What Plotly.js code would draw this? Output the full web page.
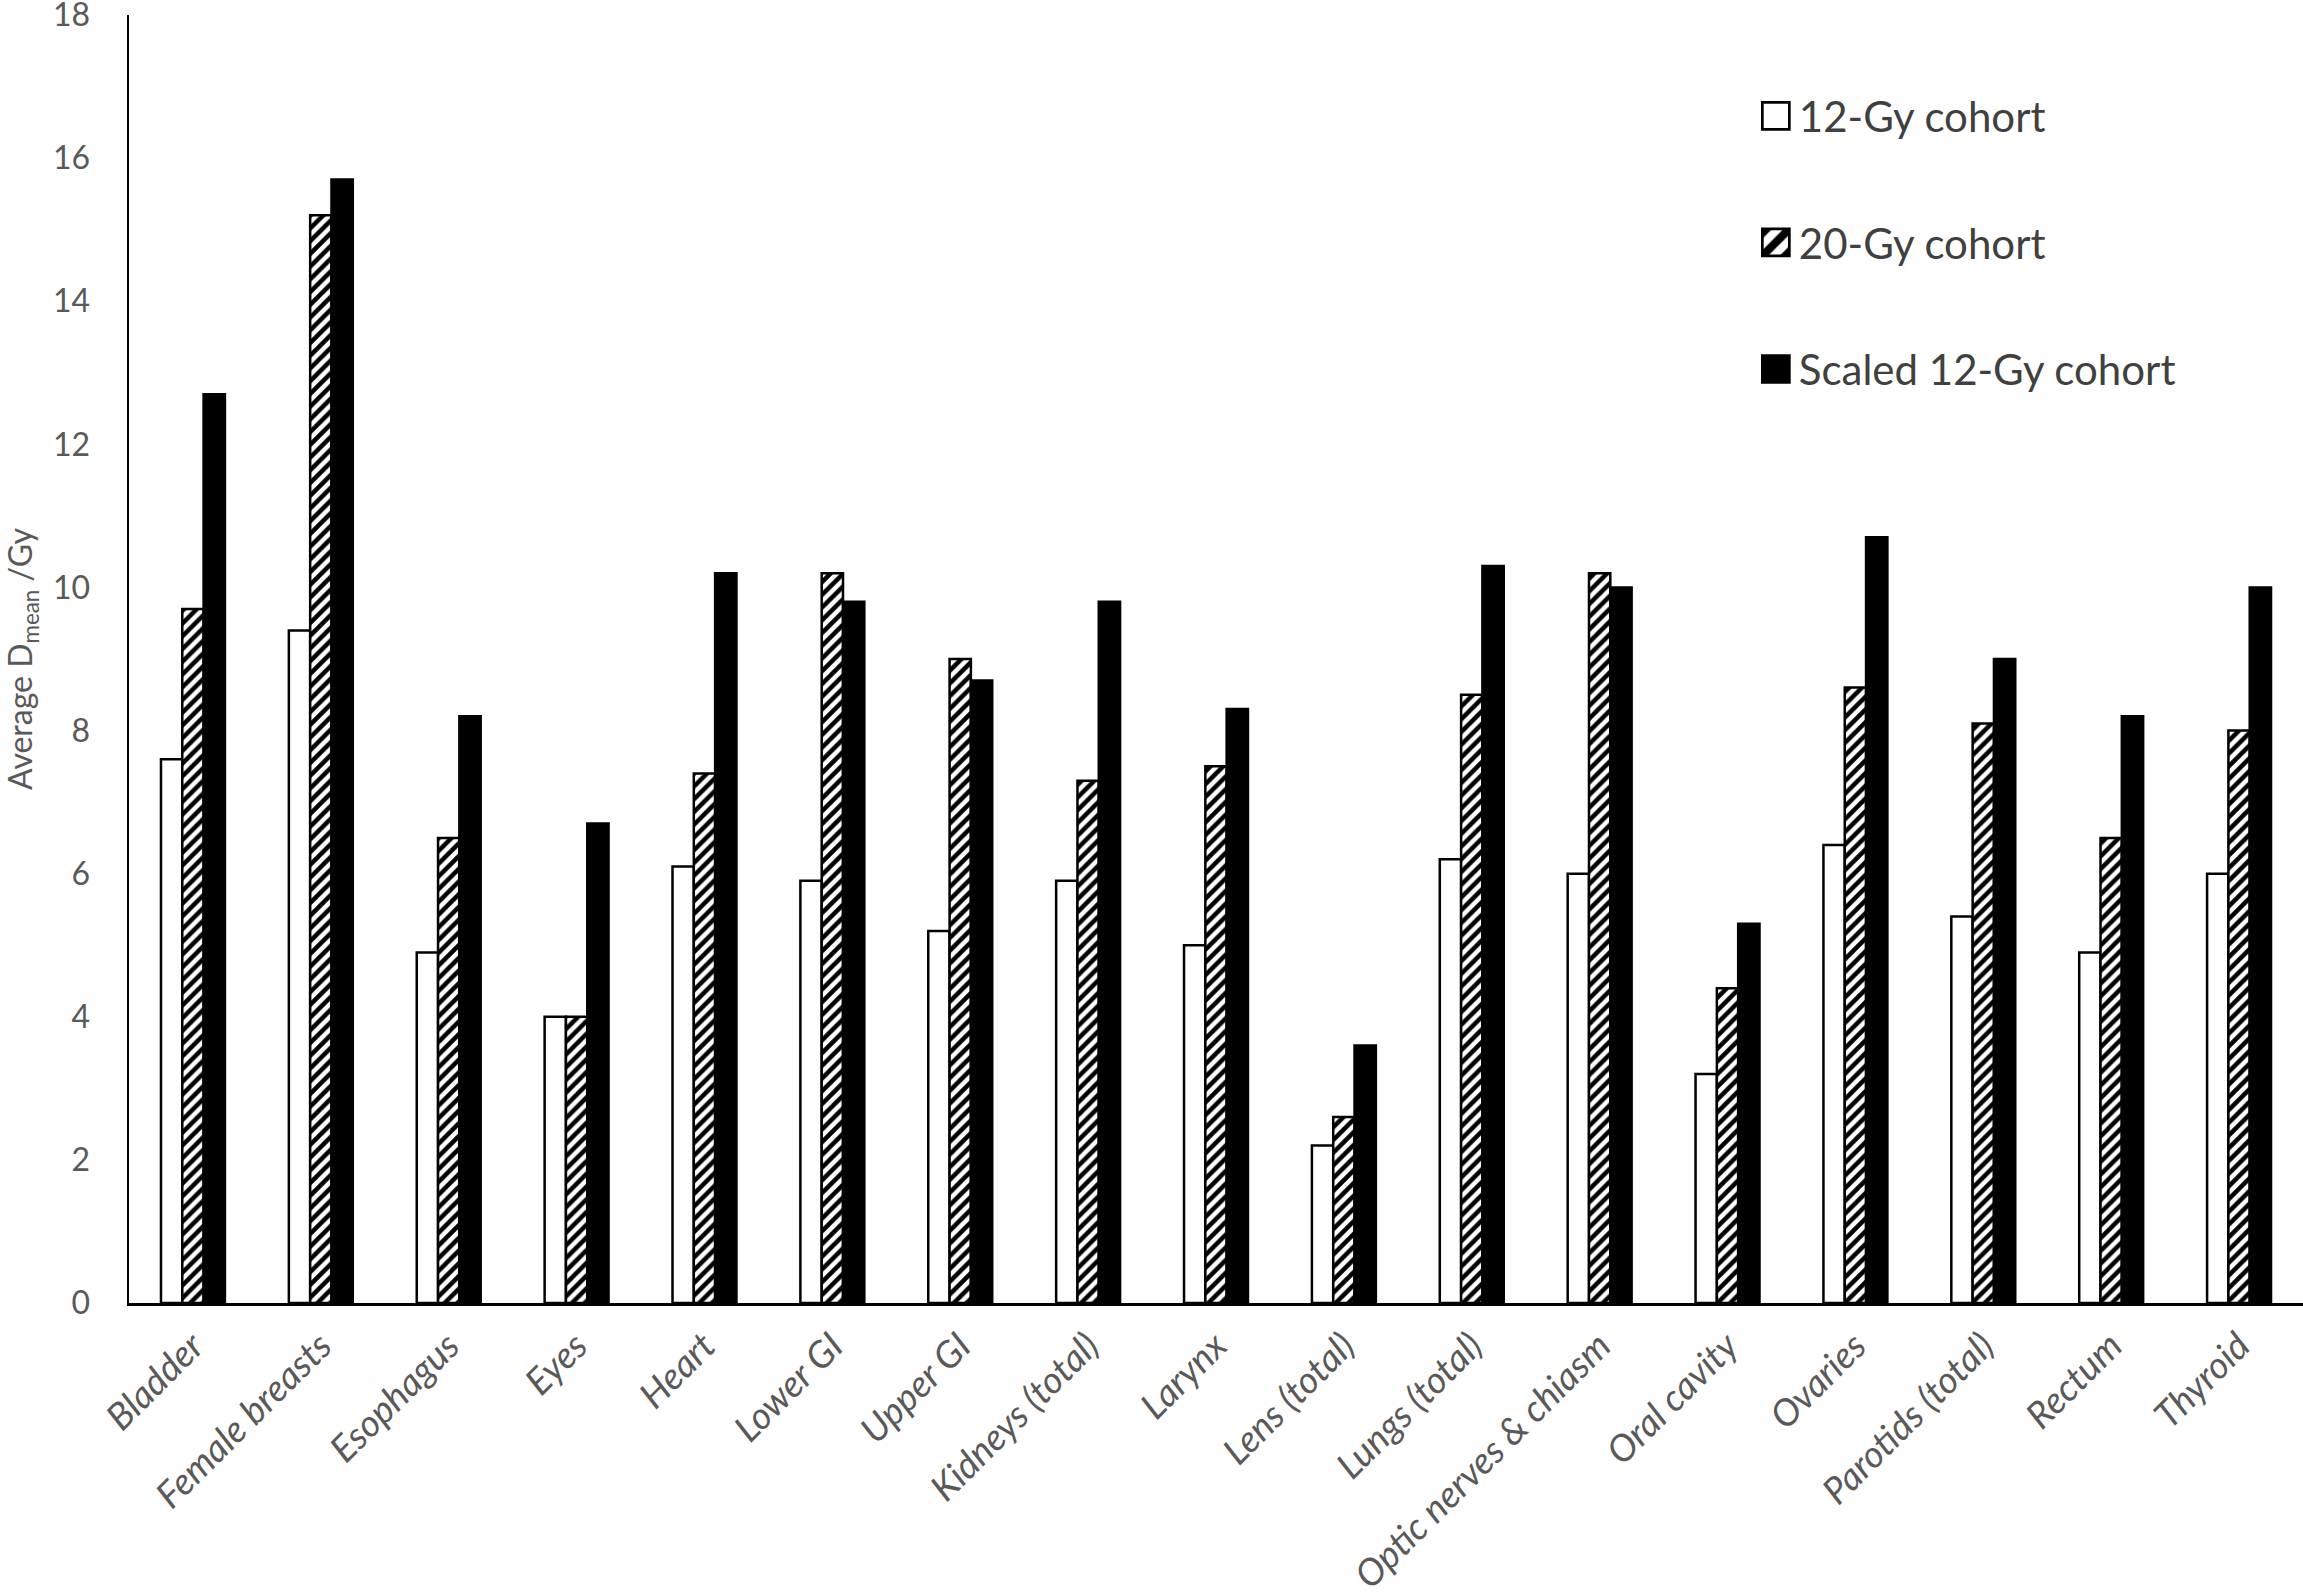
<!DOCTYPE html>
<html>
<head>
<meta charset="utf-8">
<script src="https://cdn.plot.ly/plotly-3.0.1.min.js"></script>
<style>
  html, body { margin: 0; padding: 0; background: #fff; }
  #chart { width: 2303px; height: 1596px; }
</style>
</head>
<body>
<div id="chart"></div>
<script>
// organ categories along the x axis
const organs = [
    'Bladder', 'Female breasts', 'Esophagus', 'Eyes', 'Heart', 'Lower GI',
    'Upper GI', 'Kidneys (total)', 'Larynx', 'Lens (total)', 'Lungs (total)',
    'Optic nerves & chiasm', 'Oral cavity', 'Ovaries', 'Parotids (total)',
    'Rectum', 'Thyroid'
];

// average mean dose (Gy) per cohort
const cohort12 = [7.6, 9.4, 4.9, 4.0, 6.1, 5.9, 5.2, 5.9, 5.0, 2.2, 6.2, 6.0, 3.2, 6.4, 5.4, 4.9, 6.0];
const cohort20 = [9.7, 15.2, 6.5, 4.0, 7.4, 10.2, 9.0, 7.3, 7.5, 2.6, 8.5, 10.2, 4.4, 8.6, 8.1, 6.5, 8.0];
const scaled12 = [12.7, 15.7, 8.2, 6.7, 10.2, 9.8, 8.7, 9.8, 8.3, 3.6, 10.3, 10.0, 5.3, 10.7, 9.0, 8.2, 10.0];

const yTicks = [0, 2, 4, 6, 8, 10, 12, 14, 16, 18];

const FONT = 'Lato, "Open Sans", sans-serif';
const GREY = '#595959';

const traces = [
    {
        name: '12-Gy cohort',
        legendgroup: 'a',
        type: 'bar',
        x: organs,
        y: cohort12,
        marker: { color: '#ffffff', line: { color: '#000000', width: 2.5 } }
    },
    {
        name: '20-Gy cohort',
        legendgroup: 'b',
        type: 'bar',
        x: organs,
        y: cohort20,
        marker: {
            color: '#ffffff',
            line: { color: '#000000', width: 2.5 },
            pattern: { shape: '/', fgcolor: '#000000', bgcolor: '#ffffff', size: 9, solidity: 0.5 }
        }
    },
    {
        name: 'Scaled 12-Gy cohort',
        legendgroup: 'c',
        type: 'bar',
        x: organs,
        y: scaled12,
        marker: { color: '#000000', line: { color: '#000000', width: 2.5 } }
    }
];

const layout = {
    width: 2303,
    height: 1596,
    paper_bgcolor: '#ffffff',
    plot_bgcolor: '#ffffff',
    margin: { l: 129, r: 0, t: 15, b: 293 },
    barmode: 'group',
    bargap: 0.5,
    bargroupgap: 0,
    font: { family: FONT, color: GREY, size: 32 },
    showlegend: true,
    legend: {
        x: 0.7497,
        y: 0.948,
        xanchor: 'left',
        yanchor: 'top',
        tracegroupgap: 69,
        bgcolor: 'rgba(0,0,0,0)',
        font: { family: FONT, size: 42, color: '#404040' }
    },
    xaxis: {
        type: 'category',
        showline: true,
        linecolor: '#000000',
        linewidth: 2.5,
        ticks: '',
        showgrid: false,
        zeroline: false,
        tickangle: -45,
        ticklabelstandoff: 4,
        tickfont: { family: FONT, size: 37, color: GREY, style: 'italic' }
    },
    yaxis: {
        range: [0, 18],
        tickvals: yTicks,
        showline: true,
        linecolor: '#000000',
        linewidth: 2.5,
        ticks: '',
        showgrid: false,
        zeroline: false,
        ticklabelstandoff: 30,
        ticklabeloverflow: 'allow',
        tickfont: { family: FONT, size: 32, color: GREY },
        title: {
            text: 'Average D<sub>mean</sub> /Gy',
            standoff: 14,
            font: { family: FONT, size: 32, color: GREY }
        }
    }
};

Plotly.newPlot('chart', traces, layout, { displayModeBar: false, staticPlot: true }).then(gd => {
    // enlarge the legend swatches to match the reference's bigger squares
    const box = gd.querySelector('.legend .scrollbox');
    if (box) box.removeAttribute('clip-path');
    gd.querySelectorAll('.legend .legendpoints path').forEach(p => {
        p.setAttribute('transform', 'translate(17,0) scale(2.25)');
        p.style.strokeWidth = '1.2px';
    });
});
</script>
</body>
</html>
